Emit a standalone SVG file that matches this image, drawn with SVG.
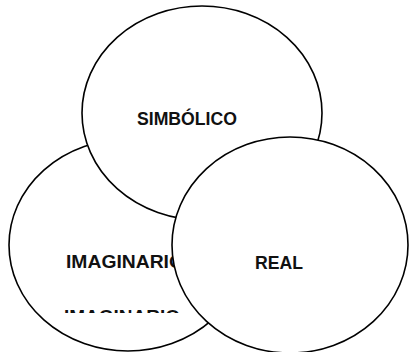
<svg xmlns="http://www.w3.org/2000/svg" width="409" height="352" viewBox="0 0 409 352">
  <style>
    .ring { fill: #ffffff; stroke: #000000; stroke-width: 1.6; }
    .lbl { font-family: "Liberation Sans", Arial, sans-serif; font-weight: bold; font-size: 18px; fill: #111111; }
  </style>
  <defs>
    <clipPath id="cut">
      <rect x="0" y="310" width="409" height="3"/>
    </clipPath>
  </defs>
  <rect width="409" height="352" fill="#ffffff"/>
  <g id="imaginario">
    <ellipse class="ring" cx="128" cy="245" rx="119" ry="106"/>
    <text class="lbl" x="66" y="268" textLength="118" lengthAdjust="spacingAndGlyphs">IMAGINARIO</text>
    <text class="lbl" x="64" y="323" textLength="116" lengthAdjust="spacingAndGlyphs" clip-path="url(#cut)">IMAGINARIO</text>
  </g>
  <g id="simbolico">
    <ellipse class="ring" cx="202" cy="113" rx="120" ry="107"/>
    <text class="lbl" x="137" y="125" textLength="100" lengthAdjust="spacingAndGlyphs">SIMBÓLICO</text>
  </g>
  <g id="real">
    <ellipse class="ring" cx="290" cy="245" rx="118" ry="108"/>
    <text class="lbl" x="255" y="269" textLength="48" lengthAdjust="spacingAndGlyphs">REAL</text>
  </g>
  <g id="connectors"/>
</svg>
